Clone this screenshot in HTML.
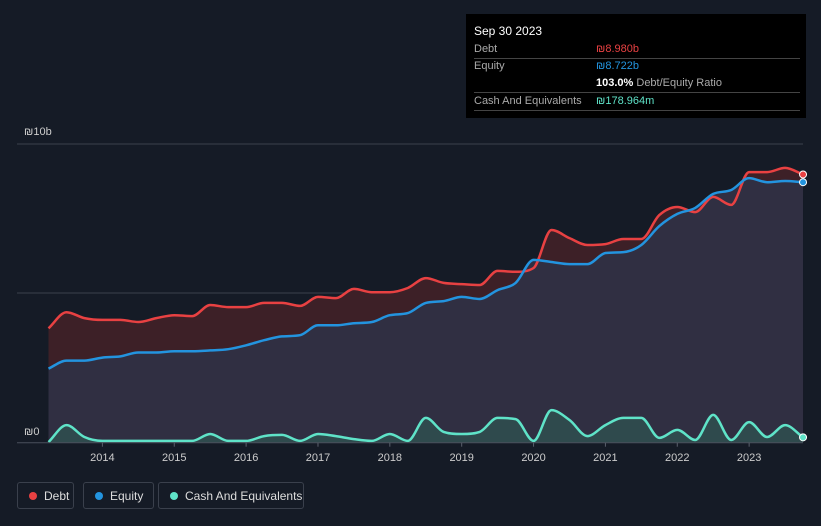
<!DOCTYPE html>
<html><head><meta charset="utf-8"><style>
body{margin:0;background:#151b26;width:821px;height:526px;overflow:hidden;font-family:"Liberation Sans",sans-serif;}
.tip{position:absolute;left:466px;top:14px;width:340px;height:104px;background:#000;color:#fff;font-size:11px;}
.row{position:absolute;left:8px;width:326px;border-bottom:1px solid #444;height:17px;line-height:17px;}
.lab{color:#aaa;position:absolute;left:0}.val{position:absolute;left:122px}
.leg{position:absolute;top:482px;height:27px;border:1px solid #3a404c;border-radius:3px;color:#ddd;font-size:12px;line-height:27px;box-sizing:border-box;padding-left:26px}
.dot{position:absolute;left:11px;top:9px;width:8px;height:8px;border-radius:50%}
</style></head><body>
<div class="tip">
<div style="position:absolute;left:8px;top:10px;font-size:12px">Sep 30 2023</div>
<div class="row" style="top:27px"><span class="lab">Debt</span><span class="val" style="color:#e84142">₪8.980b</span></div>
<div class="row" style="top:44px;border:none"><span class="lab">Equity</span><span class="val" style="color:#2394df">₪8.722b</span></div>
<div class="row" style="top:61px"><span class="val"><b>103.0%</b> <span style="color:#aaa">Debt/Equity Ratio</span></span></div>
<div class="row" style="top:79px"><span class="lab">Cash And Equivalents</span><span class="val" style="color:#5fe3c8">₪178.964m</span></div>
</div>
<svg id="c" width="821" height="526" style="position:absolute;left:0;top:0"></svg>
<div class="leg" style="left:17px;width:57px"><span class="dot" style="background:#e84142"></span>Debt</div>
<div class="leg" style="left:83px;width:71px"><span class="dot" style="background:#2394df"></span>Equity</div>
<div class="leg" style="left:158px;width:146px"><span class="dot" style="background:#5fe3c8"></span>Cash And Equivalents</div>
<script>
const debt=[3.83,4.37,4.17,4.11,4.11,4.04,4.17,4.27,4.24,4.61,4.54,4.54,4.68,4.68,4.58,4.88,4.84,5.15,5.04,5.04,5.18,5.51,5.35,5.31,5.28,5.75,5.72,5.85,7.12,6.85,6.62,6.65,6.82,6.82,7.62,7.89,7.72,8.23,7.96,9.06,9.06,9.20,8.98];
const equity=[2.48,2.75,2.75,2.85,2.89,3.02,3.02,3.06,3.06,3.09,3.13,3.26,3.43,3.56,3.60,3.93,3.93,4.00,4.04,4.27,4.34,4.68,4.74,4.88,4.81,5.11,5.35,6.12,6.05,5.98,5.98,6.35,6.38,6.62,7.25,7.66,7.86,8.33,8.46,8.86,8.72,8.76,8.72];
const cash=[0.02,0.59,0.19,0.06,0.06,0.06,0.06,0.06,0.06,0.29,0.06,0.06,0.22,0.26,0.06,0.29,0.22,0.12,0.06,0.29,0.06,0.83,0.36,0.29,0.36,0.83,0.79,0.06,1.09,0.76,0.22,0.59,0.83,0.83,0.16,0.43,0.09,0.93,0.09,0.69,0.19,0.59,0.18];
const years=[2014,2015,2016,2017,2018,2019,2020,2021,2022,2023];
const startT=2013.25, stepT=0.25;
const X=t=>48.5+(t-2013.25)*71.86, Y=v=>442.7-v*29.87;
const svg=document.getElementById('c'),NS='http://www.w3.org/2000/svg';
function mk(tag,a){const e=document.createElementNS(NS,tag);for(const k in a)e.setAttribute(k,a[k]);svg.appendChild(e);return e;}
let e;
e=mk('line',{x1:17,x2:803,y1:144,y2:144,stroke:'#3a404c'});
e=mk('line',{x1:17,x2:803,y1:293,y2:293,stroke:'#3a404c'});
e=mk('text',{x:24,y:135,fill:'#ccc','font-size':11});e.textContent='₪10b';
e=mk('text',{x:24,y:435,fill:'#ccc','font-size':11});e.textContent='₪0';
function pts(arr){return arr.map((v,i)=>[X(startT+i*stepT),Y(v)]);}
function line(p){
 const n=p.length,d=[],m=[];
 for(let i=0;i<n-1;i++)d.push((p[i+1][1]-p[i][1])/(p[i+1][0]-p[i][0]));
 m[0]=d[0];m[n-1]=d[n-2];
 for(let i=1;i<n-1;i++)m[i]=(d[i-1]*d[i]<=0)?0:(d[i-1]+d[i])/2;
 for(let i=0;i<n-1;i++){if(d[i]===0){m[i]=0;m[i+1]=0;continue;}const a=m[i]/d[i],b=m[i+1]/d[i],s=a*a+b*b;if(s>9){const t=3/Math.sqrt(s);m[i]=t*a*d[i];m[i+1]=t*b*d[i];}}
 let s='M'+p[0][0].toFixed(1)+' '+p[0][1].toFixed(1);
 for(let i=0;i<n-1;i++){const h=(p[i+1][0]-p[i][0])/3;s+='C'+(p[i][0]+h).toFixed(1)+' '+(p[i][1]+m[i]*h).toFixed(1)+' '+(p[i+1][0]-h).toFixed(1)+' '+(p[i+1][1]-m[i+1]*h).toFixed(1)+' '+p[i+1][0].toFixed(1)+' '+p[i+1][1].toFixed(1);}
 return s;}
const pd=pts(debt),pe=pts(equity),pc=pts(cash);
const x0=pd[0][0],x1=pd[pd.length-1][0],b=Y(0);
e=mk('path',{d:line(pd)+'L'+x1+' '+b+'L'+x0+' '+b+'Z',fill:'#3d2027'});
e=mk('path',{d:line(pe)+'L'+x1+' '+b+'L'+x0+' '+b+'Z',fill:'#302f42'});
e=mk('path',{d:line(pc)+'L'+x1+' '+b+'L'+x0+' '+b+'Z',fill:'#2f4a4d'});
e=mk('path',{d:line(pd),fill:'none',stroke:'#e84142','stroke-width':2.5,'stroke-linejoin':'round'});
e=mk('path',{d:line(pe),fill:'none',stroke:'#2394df','stroke-width':2.5,'stroke-linejoin':'round'});
e=mk('path',{d:line(pc),fill:'none',stroke:'#5fe3c8','stroke-width':2.5,'stroke-linejoin':'round'});
e=mk('line',{x1:17,x2:803,y1:b,y2:b,stroke:'#4a505c'});
e=mk('circle',{cx:x1,cy:pd[pd.length-1][1],r:3.5,fill:'#e84142',stroke:'#fff','stroke-width':1});
e=mk('circle',{cx:x1,cy:pe[pe.length-1][1],r:3.5,fill:'#2394df',stroke:'#fff','stroke-width':1});
e=mk('circle',{cx:x1,cy:pc[pc.length-1][1],r:3.5,fill:'#5fe3c8',stroke:'#fff','stroke-width':1});
years.forEach(y=>{
 e=mk('line',{x1:X(y),x2:X(y),y1:b,y2:b+4,stroke:'#5a606c'});
 e=mk('text',{x:X(y),y:461,fill:'#ccc','font-size':11,'text-anchor':'middle'});e.textContent=y;
 
 
});
</script>
</body></html>
